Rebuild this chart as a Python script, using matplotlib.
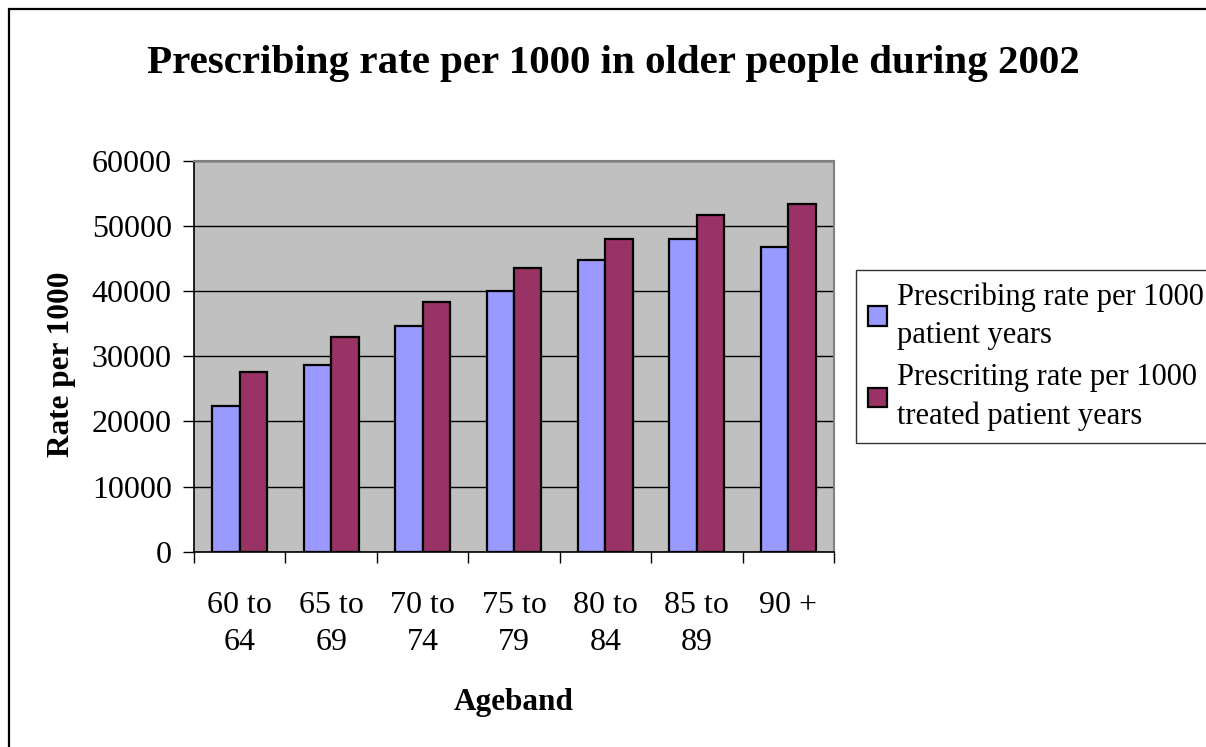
import numpy as np
import matplotlib.pyplot as plt
from matplotlib.patches import Rectangle

plt.rcParams['font.family'] = ['Liberation Serif', 'DejaVu Serif']

# Data
age_bands = ["60 to\n64", "65 to\n69", "70 to\n74", "75 to\n79", "80 to\n84", "85 to\n89", "90 +"]
rate_patient_years = [22300, 28700, 34600, 40000, 44700, 48000, 46800]
rate_treated_years = [27600, 33000, 38300, 43500, 48000, 51700, 53300]
series_labels = ["Prescribing rate per 1000\npatient years",
                 "Prescriting rate per 1000\ntreated patient years"]

x = np.arange(len(age_bands))
w = 0.3

fig = plt.figure(figsize=(12.06, 7.47), dpi=100)
ax = fig.add_axes([194 / 1206, 1 - 551.7 / 747, 640 / 1206, 391 / 747])

# outer chart border
fig.patches.append(Rectangle((8.5 / 1206, -0.2), 1.2, 1.2 - 8.5 / 747,
                             transform=fig.transFigure, fill=False,
                             edgecolor='black', linewidth=1.6, zorder=0))

ax.set_facecolor('#C0C0C0')
ax.bar(x - w / 2, rate_patient_years, w, color='#9999FF', edgecolor='black',
       linewidth=1.6, label=series_labels[0], zorder=3)
ax.bar(x + w / 2, rate_treated_years, w, color='#993366', edgecolor='black',
       linewidth=1.6, label=series_labels[1], zorder=3)

ax.set_xlim(-0.5, len(age_bands) - 0.5)
ax.set_ylim(0, 60000)
ax.set_yticks(np.arange(0, 60001, 10000))
ax.yaxis.grid(True, color='black', linewidth=1.0, zorder=1)
ax.set_axisbelow(True)

# ticks at group boundaries, labels at group centres
ax.set_xticks(np.arange(-0.5, len(age_bands), 1.0))
ax.set_xticklabels([])
ax.set_xticks(x, minor=True)
ax.set_xticklabels(age_bands, minor=True, fontsize=23, linespacing=1.4)
ax.tick_params(axis='x', which='minor', length=0, pad=28)
ax.tick_params(axis='x', which='major', length=8, width=1, direction='out', color='black')
ax.tick_params(axis='y', length=8, width=1, direction='out', labelsize=23, pad=8)

for s in ['top', 'right']:
    ax.spines[s].set_color('#808080')
    ax.spines[s].set_linewidth(1.5)
for s in ['left', 'bottom']:
    ax.spines[s].set_color('black')
    ax.spines[s].set_linewidth(1.2)

ax.set_xlabel("Ageband", fontsize=22.5, fontweight='bold', labelpad=22)
ax.set_ylabel("Rate per 1000", fontsize=22.5, fontweight='bold')
ax.yaxis.set_label_coords(-0.185, 0.48)

fig.text(613 / 1206, 1 - 63 / 747, "Prescribing rate per 1000 in older people during 2002",
         ha='center', va='center', fontsize=29.5, fontweight='bold')

leg = fig.legend(loc='upper left', bbox_to_anchor=(856 / 1206, 1 - 270 / 747),
                 fontsize=22, frameon=True, fancybox=False, shadow=False,
                 handlelength=0.6, handleheight=0.6, handletextpad=0.35,
                 borderpad=0.4, labelspacing=0.45, borderaxespad=0)
for t in leg.get_texts():
    t.set_linespacing(1.4)
leg.get_frame().set_edgecolor('black')
leg.get_frame().set_linewidth(1.0)

fig.savefig("out.png", dpi=100)
